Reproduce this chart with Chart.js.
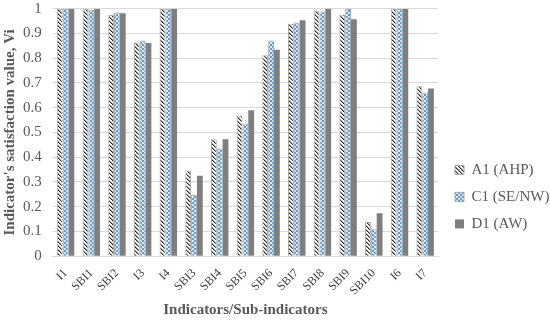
<!DOCTYPE html>
<html>
<head>
<meta charset="utf-8">
<script src="https://cdn.jsdelivr.net/npm/chart.js@4/dist/chart.umd.min.js"></script>
<style>
  html, body { margin: 0; padding: 0; background: #fff; }
  canvas { display: block; }
</style>
</head>
<body>
<canvas id="chart" width="550" height="323"></canvas>
<script>
// indicators along the x axis
const categories = ["I1", "SBI1", "SBI2", "I3", "I4", "SBI3", "SBI4", "SBI5", "SBI6",
  "SBI7", "SBI8", "SBI9", "SBI10", "I6", "I7"];

// satisfaction values
const a1Values = [1.0, 1.0, 0.976, 0.864, 1.0, 0.346, 0.472, 0.567, 0.812, 0.939, 0.993, 0.977, 0.138, 1.0, 0.687];
const c1Values = [1.0, 0.996, 0.985, 0.872, 1.0, 0.248, 0.435, 0.536, 0.872, 0.944, 0.989, 0.999, 0.109, 1.0, 0.661];
const d1Values = [1.0, 1.0, 0.982, 0.862, 1.0, 0.325, 0.472, 0.590, 0.834, 0.954, 1.0, 0.958, 0.173, 1.0, 0.678];

const seriesNames = ["A1 (AHP)", "C1 (SE/NW)", "D1 (AW)"];
const yTicks = [0, 0.1, 0.2, 0.3, 0.4, 0.5, 0.6, 0.7, 0.8, 0.9, 1];

// small canvas patterns like the excel fills
function stripePattern() {
  const c = document.createElement("canvas");
  c.width = 4; c.height = 4;
  const g = c.getContext("2d");
  g.fillStyle = "#ffffff";
  g.fillRect(0, 0, 4, 4);
  for (let i = 0; i < 4; i++) {
    g.fillStyle = "#262626";
    g.fillRect(i, i, 1, 1);
    g.fillStyle = "#9a9a9a";
    g.fillRect((i + 1) % 4, i, 1, 1);
  }
  return g.createPattern(c, "repeat");
}

function checkPattern() {
  const c = document.createElement("canvas");
  c.width = 4; c.height = 4;
  const g = c.getContext("2d");
  g.fillStyle = "#5b9bd5";
  g.fillRect(0, 0, 4, 4);
  g.fillStyle = "#dbe9f7";
  g.fillRect(0, 0, 2, 2);
  g.fillRect(2, 2, 2, 2);
  return g.createPattern(c, "repeat");
}

const textGray = "#595959";
const serif = "'Liberation Serif', 'Times New Roman', serif";

const whiteBg = {
  id: "whiteBg",
  beforeDraw(chart) {
    const ctx = chart.ctx;
    ctx.save();
    ctx.fillStyle = "#ffffff";
    ctx.fillRect(0, 0, chart.width, chart.height);
    ctx.restore();
  }
};

// nudge the legend a little to the right, like the excel layout
const legendNudge = {
  id: "legendNudge",
  afterLayout(chart) {
    const lg = chart.legend;
    if (!lg) return;
    lg.left += 5;
    lg.right += 5;
  }
};

new Chart(document.getElementById("chart"), {
  type: "bar",
  data: {
    labels: categories,
    datasets: [
      {
        label: seriesNames[0],
        data: a1Values,
        backgroundColor: stripePattern(),
        borderColor: "#a6a6a6",
        borderWidth: 1,
      },
      {
        label: seriesNames[1],
        data: c1Values,
        backgroundColor: checkPattern(),
        borderColor: "#a6a6a6",
        borderWidth: 1,
      },
      {
        label: seriesNames[2],
        data: d1Values,
        backgroundColor: "#7f7f7f",
        borderWidth: 0,
      },
    ],
  },
  options: {
    responsive: false,
    animation: false,
    layout: { padding: { top: 0, right: 0, left: 0, bottom: 2 } },
    datasets: {
      bar: { categoryPercentage: 0.68, barPercentage: 1.0 },
    },
    plugins: {
      tooltip: { enabled: false },
      legend: {
        position: "right",
        align: "start",
        maxWidth: 112,
        title: { display: true, text: " ", padding: { top: 136, bottom: 0 } },
        labels: {
          boxWidth: 9,
          boxHeight: 9,
          padding: 12,
          color: textGray,
          font: { family: serif, size: 15 },
        },
      },
    },
    scales: {
      x: {
        grid: { display: false },
        border: { display: true, color: "#d9d9d9" },
        ticks: {
          color: "#404040",
          font: { family: serif, size: 12 },
          autoSkip: false,
          minRotation: 45,
          maxRotation: 45,
          padding: 2,
        },
        title: {
          display: true,
          text: "Indicators/Sub-indicators",
          color: textGray,
          font: { family: serif, size: 15, weight: "bold" },
          padding: { top: 1, bottom: 2 },
        },
      },
      y: {
        min: 0,
        max: 1,
        afterBuildTicks(scale) {
          scale.ticks = yTicks.map((v) => ({ value: v }));
        },
        grid: { color: "#d9d9d9", drawTicks: false },
        border: { display: false },
        ticks: {
          color: textGray,
          font: { family: serif, size: 15, lineHeight: 0.1 },
          padding: 8,
          // thin space keeps the numbers a bit away from the bars
          callback: (v) => String(Math.round(v * 10) / 10) + "\u2009",
        },
        title: {
          display: true,
          text: "Indicator's satisfaction value, Vi",
          color: textGray,
          font: { family: serif, size: 15, weight: "bold", lineHeight: 1 },
          padding: { top: 3, bottom: -3 },
        },
      },
    },
  },
  plugins: [whiteBg, legendNudge],
});
</script>
</body>
</html>
